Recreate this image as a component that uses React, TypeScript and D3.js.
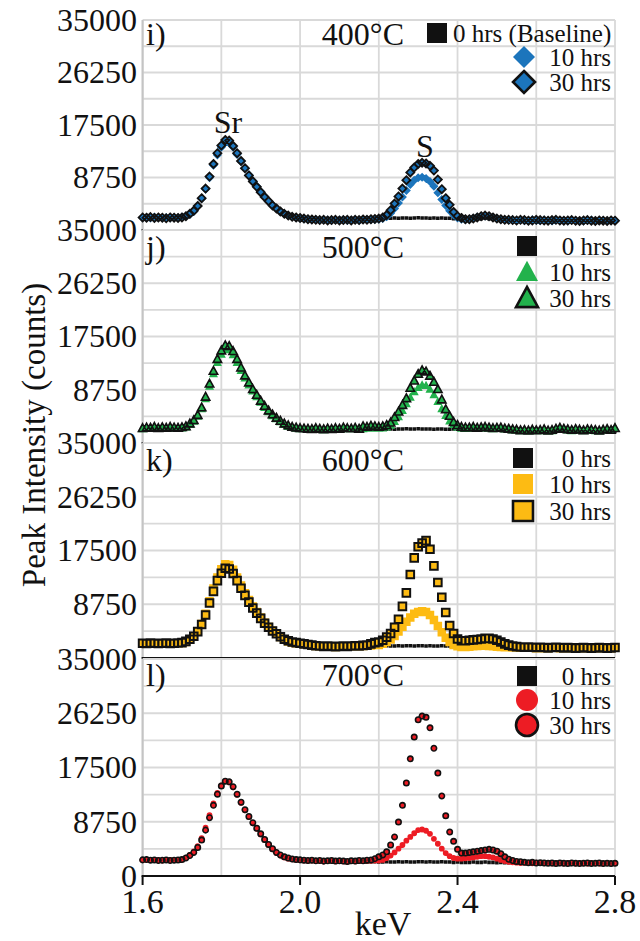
import React from 'react';
import * as d3 from 'd3';

// ---------- DATA ----------
const energies = [
  1.60, 1.61, 1.62, 1.63, 1.64, 1.65, 1.66, 1.67, 1.68, 1.69,
  1.70, 1.71, 1.72, 1.73, 1.74, 1.75, 1.76, 1.77, 1.78, 1.79,
  1.80, 1.81, 1.82, 1.83, 1.84, 1.85, 1.86, 1.87, 1.88, 1.89,
  1.90, 1.91, 1.92, 1.93, 1.94, 1.95, 1.96, 1.97, 1.98, 1.99,
  2.00, 2.01, 2.02, 2.03, 2.04, 2.05, 2.06, 2.07, 2.08, 2.09,
  2.10, 2.11, 2.12, 2.13, 2.14, 2.15, 2.16, 2.17, 2.18, 2.19,
  2.20, 2.21, 2.22, 2.23, 2.24, 2.25, 2.26, 2.27, 2.28, 2.29,
  2.30, 2.31, 2.32, 2.33, 2.34, 2.35, 2.36, 2.37, 2.38, 2.39,
  2.40, 2.41, 2.42, 2.43, 2.44, 2.45, 2.46, 2.47, 2.48, 2.49,
  2.50, 2.51, 2.52, 2.53, 2.54, 2.55, 2.56, 2.57, 2.58, 2.59,
  2.60, 2.61, 2.62, 2.63, 2.64, 2.65, 2.66, 2.67, 2.68, 2.69,
  2.70, 2.71, 2.72, 2.73, 2.74, 2.75, 2.76, 2.77, 2.78, 2.79,
  2.80,
];

// 400 °C
const c400_0h = [
  2100, 2050, 2150, 2000, 2100, 2050, 1950, 2100, 2050, 2000, 2100,
  2300, 2700, 3200, 4000, 5300, 6900, 8900, 11000, 12800, 14100, 15000, 14900, 14000, 12800, 11500, 10300, 9100, 8100, 7200, 6300, 5500, 4800, 4100, 3600, 3100, 2700, 2400, 2200, 2100, 2000,
  1800, 1800, 1750, 1800, 1750, 1800, 1750, 1800, 1750, 1800, 1750, 1800, 1750, 1800, 1800, 1850, 1850, 1900, 1900,
  1950, 1950, 2000, 1950, 2000, 1950, 2000, 2000, 1950, 2000, 2050, 2000, 2000, 1950, 2000, 1950, 2000, 1950, 1950, 1900, 1950, 1900, 1900,
  1900, 1950, 1900, 1900, 1950, 1900, 1850, 1900, 1850, 1850,
  1800, 1750, 1800, 1750, 1700, 1750, 1700, 1700, 1650, 1700, 1650, 1650, 1700, 1650, 1600, 1650, 1600, 1650, 1600, 1600, 1650, 1600, 1550, 1600, 1550, 1600, 1550, 1550,
];
const c400_10h = [
  2050, 2100, 2000, 2150, 2050, 2000, 2100, 2000, 2100, 2050, 2150,
  2300, 2600, 3100, 4000, 5200, 6800, 8700, 10800, 12500, 13800, 14600, 14500, 13800, 12600, 11400, 10300, 9200, 8200, 7300, 6400, 5600, 4800, 4200, 3600, 3100, 2700, 2400, 2200, 2050, 1950,
  1850, 1800, 1700, 1750, 1650, 1700, 1650, 1600, 1700, 1650, 1700, 1600, 1650, 1700, 1600, 1700, 1750, 1700, 1750,
  1800, 1900, 2200, 2800, 3600, 4500, 5500, 6600, 7600, 8300, 8700, 8800, 8600, 8100, 7300, 6200, 5100, 4100, 3200, 2500, 2000, 1800, 1700,
  1800, 1950, 2150, 2300, 2350, 2250, 2100, 1900, 1750, 1700,
  1650, 1700, 1600, 1650, 1550, 1600, 1700, 1600, 1550, 1650, 1600, 1500, 1650, 1550, 1600, 1500, 1650, 1600, 1550, 1500, 1600, 1650, 1500, 1550, 1600, 1500, 1550, 1600,
];
const c400_30h = [
  2100, 2050, 2150, 2000, 2100, 2050, 1950, 2100, 2050, 2000, 2100,
  2300, 2700, 3200, 4000, 5300, 6900, 8900, 11000, 12800, 14100, 15000, 14900, 14000, 12800, 11500, 10300, 9100, 8100, 7200, 6300, 5500, 4800, 4100, 3600, 3100, 2700, 2400, 2200, 2100, 2000,
  1900, 1800, 1750, 1700, 1650, 1700, 1600, 1650, 1700, 1600, 1650, 1700, 1600, 1700, 1650, 1750, 1700, 1800, 1850,
  1900, 2100, 2500, 3300, 4400, 5600, 6900, 8300, 9600, 10400, 11000, 11200, 11100, 10700, 9900, 8400, 6800, 5300, 4200, 3000, 2300, 2000, 1800,
  1800, 1900, 2100, 2300, 2400, 2300, 2100, 1900, 1800, 1700,
  1700, 1650, 1600, 1700, 1650, 1550, 1600, 1700, 1650, 1600, 1550, 1650, 1700, 1600, 1550, 1600, 1650, 1550, 1500, 1600, 1650, 1550, 1500, 1600, 1550, 1500, 1600, 1550,
];

// 500 °C
const c500_0h = [
  2400, 2450, 2400, 2500, 2400, 2450, 2400, 2500, 2450, 2400, 2500,
  2700, 3150, 3700, 4550, 5800, 7550, 9700, 11800, 13750, 15150, 16000, 15900, 15050, 13750, 12350, 11050, 9900, 8800, 7850, 6900, 6050, 5300, 4650, 4100, 3600, 3150, 2850, 2600, 2500, 2400,
  2350, 2300, 2300, 2350, 2300, 2300, 2250, 2300, 2300, 2250, 2300, 2300, 2250, 2300, 2300, 2250, 2300, 2300, 2300,
  2300, 2250, 2300, 2300, 2250, 2300, 2300, 2350, 2300, 2300, 2350, 2300, 2300, 2300, 2250, 2300, 2300, 2250, 2250, 2300, 2250, 2250, 2200,
  2250, 2200, 2250, 2200, 2200, 2250, 2200, 2200, 2150, 2200,
  2150, 2100, 2150, 2100, 2100, 2050, 2100, 2050, 2100, 2050, 2000, 2050, 2100, 2050, 2000, 2050, 2000, 2050, 2000, 2000, 2050, 2000, 1950, 2000, 2000, 1950, 2000, 2000,
];
const c500_10h = [
  2300, 2350, 2400, 2450, 2350, 2400, 2350, 2450, 2400, 2350, 2450,
  2600, 3000, 3550, 4350, 5600, 7250, 9300, 11350, 13200, 14550, 15400, 15300, 14450, 13200, 11900, 10650, 9500, 8500, 7550, 6650, 5800, 5100, 4450, 3950, 3450, 3000, 2700, 2500, 2400, 2300,
  2300, 2250, 2200, 2300, 2250, 2150, 2250, 2200, 2300, 2250, 2400, 2300, 2300, 2350, 2250, 2300, 2450, 2400, 2400,
  2400, 2450, 2600, 2900, 3500, 4300, 5300, 6400, 7500, 8400, 9100, 9500, 9400, 8800, 7900, 6800, 5600, 4500, 3600, 3000, 2600, 2400, 2350,
  2400, 2500, 2400, 2450, 2500, 2400, 2300, 2350, 2400, 2250,
  2200, 2100, 2050, 2000, 2000, 1950, 2050, 2000, 2000, 2100, 1950, 2000, 2200, 2350, 2250, 2100, 2000, 2150, 2050, 2000, 2100, 2050, 2000, 1950, 2050, 2150, 2050, 2500,
];
const c500_30h = [
  2400, 2500, 2450, 2600, 2400, 2550, 2450, 2600, 2500, 2450, 2550,
  2700, 3150, 3700, 4550, 5800, 7550, 9700, 11800, 13750, 15150, 16000, 15900, 15050, 13750, 12350, 11050, 9900, 8800, 7850, 6900, 6050, 5300, 4650, 4100, 3600, 3150, 2850, 2600, 2500, 2400,
  2350, 2300, 2250, 2400, 2300, 2200, 2350, 2250, 2400, 2300, 2500, 2400, 2350, 2450, 2300, 2700, 2600, 2800, 2700,
  2600, 2700, 2900, 3300, 4200, 5100, 6200, 7300, 9000, 10200, 11300, 11900, 11700, 11000, 10000, 8800, 7100, 5500, 4400, 3400, 2900, 2600, 2500,
  2500, 2600, 2450, 2550, 2600, 2500, 2400, 2450, 2500, 2350,
  2300, 2200, 2150, 2050, 2100, 2000, 2150, 2050, 2100, 2200, 2000, 2100, 2300, 2450, 2300, 2200, 2100, 2250, 2150, 2050, 2200, 2150, 2100, 2000, 2150, 2250, 2100, 2400,
];

// 600 °C
const c600_0h = [
  2400, 2400, 2450, 2400, 2400, 2450, 2400, 2400, 2450, 2400, 2450,
  2700, 3050, 3550, 4300, 5450, 7000, 8950, 10850, 12600, 13800, 14600, 14500, 13750, 12600, 11350, 10200, 9100, 8150, 7300, 6450, 5650, 5000, 4400, 3950, 3450, 3050, 2800, 2600, 2500, 2400,
  2300, 2200, 2100, 2050, 2000, 2000, 1950, 1950, 2000, 1950, 1950, 2000, 1950, 1950, 2000, 1950, 1950, 2000, 1950,
  1950, 1950, 2000, 1950, 1950, 2000, 1950, 2000, 2000, 1950, 2000, 2000, 1950, 2000, 1950, 1950, 2000, 1950, 1950, 1900, 1950, 1900, 1900,
  1900, 1900, 1850, 1900, 1900, 1850, 1850, 1900, 1850, 1850,
  1800, 1800, 1750, 1750, 1750, 1700, 1750, 1700, 1700, 1700, 1650, 1700, 1700, 1650, 1650, 1700, 1650, 1650, 1650, 1600, 1650, 1650, 1600, 1650, 1600, 1600, 1650, 1600,
];
const c600_10h = [
  2350, 2300, 2400, 2350, 2300, 2350, 2400, 2300, 2350, 2400, 2450,
  2600, 3000, 3500, 4350, 5550, 7200, 9250, 11300, 13100, 14450, 15250, 15150, 14350, 13100, 11800, 10550, 9450, 8400, 7500, 6600, 5750, 5050, 4450, 3950, 3400, 3000, 2700, 2500, 2400, 2300,
  2250, 2150, 2050, 1950, 1900, 1850, 1900, 1850, 1800, 1850, 1900, 1850, 1900, 1950, 1900, 1950, 2000, 2050, 2100,
  2100, 2300, 2600, 3000, 3600, 4300, 5100, 5900, 6600, 7200, 7500, 7600, 7500, 7000, 6200, 5200, 4200, 3300, 2600, 2100, 1900, 1800, 1800,
  1850, 1900, 1950, 2000, 2000, 1950, 1900, 1850, 1800, 1750,
  1750, 1700, 1700, 1650, 1650, 1700, 1650, 1600, 1650, 1600, 1600, 1650, 1650, 1600, 1600, 1650, 1600, 1550, 1600, 1650, 1600, 1550, 1600, 1650, 1600, 1550, 1600, 1650,
];
const c600_30h = [
  2400, 2350, 2450, 2400, 2350, 2400, 2450, 2350, 2400, 2450, 2500,
  2700, 3050, 3550, 4300, 5450, 7000, 8950, 10850, 12600, 13800, 14600, 14500, 13750, 12600, 11350, 10200, 9100, 8150, 7300, 6450, 5650, 5000, 4400, 3950, 3450, 3050, 2800, 2600, 2500, 2400,
  2300, 2200, 2100, 2000, 1950, 1900, 1950, 1900, 1850, 1900, 1950, 1900, 1950, 2000, 1950, 2050, 2100, 2300, 2500,
  2600, 2900, 3400, 4000, 5000, 6300, 8400, 10600, 13600, 16300, 18100, 18700, 19100, 17700, 15000, 12300, 9900, 7400, 5300, 4000, 3100, 2800, 2800,
  2900, 2950, 3000, 3100, 3200, 3200, 3100, 2900, 2600, 2300,
  2100, 1950, 1850, 1800, 1750, 1800, 1750, 1700, 1750, 1700, 1650, 1700, 1750, 1700, 1650, 1700, 1650, 1600, 1650, 1700, 1650, 1600, 1650, 1700, 1650, 1600, 1650, 1700,
];

// 700 °C
const c700_0h = [
  2600, 2600, 2550, 2600, 2550, 2600, 2600, 2550, 2600, 2600, 2650,
  2900, 3300, 3800, 4600, 5800, 7400, 9400, 11400, 13200, 14500, 15300, 15200, 14400, 13200, 11900, 10700, 9600, 8600, 7700, 6800, 5900, 5100, 4400, 3800, 3400, 3100, 2900, 2750, 2650, 2600,
  2550, 2500, 2450, 2400, 2400, 2350, 2350, 2400, 2350, 2350, 2300, 2300, 2350, 2300, 2300, 2300, 2250, 2300, 2300,
  2250, 2250, 2300, 2250, 2250, 2300, 2250, 2300, 2250, 2250, 2300, 2300, 2250, 2300, 2250, 2250, 2300, 2250, 2250, 2200, 2250, 2200, 2200,
  2200, 2250, 2200, 2200, 2250, 2200, 2200, 2150, 2200, 2150,
  2150, 2100, 2100, 2100, 2050, 2100, 2050, 2050, 2100, 2050, 2050, 2000, 2050, 2050, 2000, 2050, 2000, 2000, 2050, 2000, 2000, 2050, 2000, 2000, 1950, 2000, 2000, 2000,
];
const c700_10h = [
  2550, 2600, 2600, 2550, 2600, 2500, 2550, 2600, 2550, 2600, 2650,
  2950, 3400, 3950, 4800, 6100, 7800, 9800, 11700, 13400, 14600, 15300, 15100, 14300, 13100, 11800, 10600, 9500, 8500, 7600, 6700, 5800, 5000, 4300, 3700, 3300, 3000, 2800, 2700, 2600, 2550,
  2500, 2450, 2500, 2400, 2450, 2350, 2400, 2450, 2350, 2400, 2350, 2300, 2400, 2350, 2450, 2400, 2450, 2450, 2500,
  2500, 2600, 2900, 3300, 3800, 4400, 5000, 5700, 6300, 6900, 7400, 7500, 7300, 6800, 6000, 5200, 4400, 3700, 3200, 2900, 2800, 2800, 2850,
  2900, 3000, 3100, 3200, 3200, 3100, 3000, 2800, 2600, 2400,
  2300, 2200, 2150, 2100, 2150, 2100, 2050, 2150, 2100, 2050, 2100, 2000, 2100, 2050, 2000, 2100, 2050, 2000, 2100, 2050, 2000, 2100, 2050, 2000, 2050, 2100, 2000, 2050,
];
const c700_30h = [
  2600, 2650, 2550, 2600, 2500, 2550, 2600, 2500, 2550, 2600, 2650,
  2900, 3300, 3800, 4600, 5800, 7400, 9400, 11400, 13200, 14500, 15300, 15200, 14400, 13200, 11900, 10700, 9600, 8600, 7700, 6800, 5900, 5100, 4400, 3800, 3400, 3100, 2900, 2750, 2650, 2600,
  2550, 2500, 2550, 2450, 2500, 2400, 2450, 2500, 2400, 2450, 2400, 2350, 2450, 2400, 2500, 2450, 2550, 2600, 2800,
  3100, 3400, 3900, 5000, 6300, 8700, 11400, 15000, 18900, 22400, 25200, 25800, 25600, 23900, 20600, 16600, 12900, 9700, 7100, 5600, 4300, 3700, 3700,
  3800, 3900, 4000, 4100, 4200, 4300, 4200, 4000, 3600, 3100,
  2700, 2500, 2350, 2300, 2200, 2150, 2200, 2100, 2150, 2100, 2050, 2100, 2000, 2100, 2050, 2000, 2100, 2050, 2000, 2050, 2100, 2000, 2050, 2100, 2000, 2050, 2000, 2050,
];

const yTickValues = [0, 8750, 17500, 26250, 35000];
const yTickLabels = ['0', '8750', '17500', '26250', '35000'];
const yGridValues = [0, 4375, 8750, 13125, 17500, 21875, 26250, 30625, 35000];
const xGridValues = [1.6, 1.8, 2.0, 2.2, 2.4, 2.6, 2.8];
const xTickValues = [1.6, 2.0, 2.4, 2.8];
const xTickLabels = ['1.6', '2.0', '2.4', '2.8'];

const panelLabels = ['i)', 'j)', 'k)', 'l)'];
const temperatures = ['400°C', '500°C', '600°C', '700°C'];
const legendNamesFirst = ['0 hrs (Baseline)', '10 hrs', '30 hrs'];
const legendNames = ['0 hrs', '10 hrs', '30 hrs'];

// ---------- LAYOUT / STYLE ----------
const FONT = "'Liberation Serif', 'Times New Roman', 'DejaVu Serif', serif";
const X_LEFT = 142.6;
const X_RIGHT = 615;

type Shape = 'diamond' | 'triangle' | 'square' | 'circle';

const panels = [
  { top: 20, bottom: 230, textY: 45, legendY: [33, 57, 82], legendX: [437, 524, 524], color: '#1c75bc', shape: 'diamond' as Shape,
    data: [c400_0h, c400_10h, c400_30h], names: legendNamesFirst, textStart: 453 },
  { top: 230, bottom: 443, textY: 258, legendY: [246, 272, 298], legendX: [527, 527, 527], color: '#22b24c', shape: 'triangle' as Shape,
    data: [c500_0h, c500_10h, c500_30h], names: legendNames, textStart: 0 },
  { top: 443, bottom: 658, textY: 471, legendY: [458, 484, 511], legendX: [523, 523, 523], color: '#fdbb13', shape: 'square' as Shape,
    data: [c600_0h, c600_10h, c600_30h], names: legendNames, textStart: 0 },
  { top: 659, bottom: 876, textY: 686, legendY: [676, 700, 725], legendX: [527, 527, 527], color: '#ed1c24', shape: 'circle' as Shape,
    data: [c700_0h, c700_10h, c700_30h], names: legendNames, textStart: 0 },
];

function markerPath(shape: Shape, cx: number, cy: number, s: number): string {
  switch (shape) {
    case 'square':
      return `M${cx - s / 2},${cy - s / 2}h${s}v${s}h${-s}Z`;
    case 'diamond': {
      const r = s / 2;
      return `M${cx},${cy - r}L${cx + r},${cy}L${cx},${cy + r}L${cx - r},${cy}Z`;
    }
    case 'triangle': {
      const w = s, h = s * 0.92;
      return `M${cx},${cy - h * 0.6}L${cx + w / 2},${cy + h * 0.4}L${cx - w / 2},${cy + h * 0.4}Z`;
    }
    case 'circle': {
      const r = s / 2;
      return `M${cx - r},${cy}a${r},${r} 0 1,0 ${2 * r},0a${r},${r} 0 1,0 ${-2 * r},0Z`;
    }
  }
  return '';
}

const sizes: Record<Shape, { s10: number; s30: number; sw30: number }> = {
  diamond: { s10: 9, s30: 8, sw30: 1.8 },
  triangle: { s10: 9, s30: 8.4, sw30: 1.6 },
  square: { s10: 8.5, s30: 7.6, sw30: 2 },
  circle: { s10: 5.8, s30: 5.4, sw30: 1.6 },
};

const legendSizes: Record<Shape, number> = { diamond: 22, triangle: 22, square: 20, circle: 22 };

const txt: React.CSSProperties = { fontFamily: FONT };

export default function App() {
  const x = d3.scaleLinear().domain([1.6, 2.8]).range([X_LEFT, X_RIGHT]);

  return (
    <svg width={640} height={941} style={{ position: 'absolute', left: 0, top: 0, background: '#fff', fontFamily: FONT }}>
      <rect x={0} y={0} width={640} height={941} fill="#fff" />
      {panels.map((p, pi) => {
        const y = d3.scaleLinear().domain([0, 35000]).range([p.bottom, p.top]);
        const sz = sizes[p.shape];
        const build = (vals: number[], shape: Shape, s: number) =>
          vals.map((v, i) => markerPath(shape, x(energies[i]), y(v), s)).join('');
        const isLast = pi === panels.length - 1;
        return (
          <g key={pi}>
            {yGridValues.map((g) => (
              <line key={'yg' + g} x1={X_LEFT} x2={X_RIGHT} y1={y(g)} y2={y(g)} stroke="#d9d9d9" strokeWidth={1.8} />
            ))}
            {xGridValues.map((g) => (
              <line key={'xg' + g} x1={x(g)} x2={x(g)} y1={p.top} y2={p.bottom} stroke="#d9d9d9" strokeWidth={1.8} />
            ))}
            <line x1={X_LEFT} x2={X_LEFT} y1={p.top} y2={p.bottom} stroke="#c4c4c4" strokeWidth={2} />
            <path d={build(p.data[0], 'square', 3.6)} fill="#111" />
            <path d={build(p.data[1], p.shape, sz.s10)} fill={p.color} />
            <path d={build(p.data[2], p.shape, sz.s30)} fill={p.color} stroke="#111" strokeWidth={sz.sw30} />
            <line x1={X_LEFT - 1} x2={X_RIGHT} y1={p.bottom} y2={p.bottom} stroke="#111" strokeWidth={2.2} />
            {yTickValues.map((t, ti) => (t === 0 && !isLast) ? null : (
              <text key={'yt' + t} x={137} y={y(t)} dy="0.34em" textAnchor="end" fontSize={32} fill="#111" style={txt}>
                {yTickLabels[ti]}
              </text>
            ))}
            <text x={146} y={p.textY} fontSize={32} fill="#111" style={txt}>{panelLabels[pi]}</text>
            <text x={404} y={p.textY} fontSize={32} fill="#111" textAnchor="end" style={txt}>{temperatures[pi]}</text>
            {[0, 1, 2].map((k) => {
              const lx = p.legendX[k];
              const ly = p.legendY[k];
              const ls = k === 0 ? 20 : legendSizes[p.shape];
              const shape: Shape = k === 0 ? 'square' : p.shape;
              const d = markerPath(shape, lx, shape === 'triangle' ? ly + 1 : ly, ls);
              return (
                <g key={'lg' + k}>
                  <path d={d} fill={k === 0 ? '#111' : p.color} stroke={k === 2 ? '#111' : 'none'} strokeWidth={2.6} />
                  {k === 0 && p.textStart ? (
                    <text x={p.textStart} y={ly} dy="0.34em" fontSize={25} fill="#111" style={txt}>{p.names[k]}</text>
                  ) : (
                    <text x={611} y={ly} dy="0.34em" fontSize={25} fill="#111" textAnchor="end" style={txt}>{p.names[k]}</text>
                  )}
                </g>
              );
            })}
          </g>
        );
      })}
      <text x={228} y={133} fontSize={32} textAnchor="middle" fill="#111" style={txt}>Sr</text>
      <text x={425} y={157} fontSize={32} textAnchor="middle" fill="#111" style={txt}>S</text>
      {xTickValues.map((t, i) => (
        <g key={'xt' + t}>
          <line x1={x(t)} x2={x(t)} y1={876} y2={885} stroke="#111" strokeWidth={2} />
          <text x={x(t)} y={913} fontSize={34} textAnchor="middle" fill="#111" style={txt}>{xTickLabels[i]}</text>
        </g>
      ))}
      <text x={383} y={935} fontSize={34} textAnchor="middle" fill="#111" style={txt}>keV</text>
      <text transform="translate(45,435) rotate(-90)" fontSize={33} textAnchor="middle" fill="#111" style={txt}>
        Peak Intensity (counts)
      </text>
    </svg>
  );
}
